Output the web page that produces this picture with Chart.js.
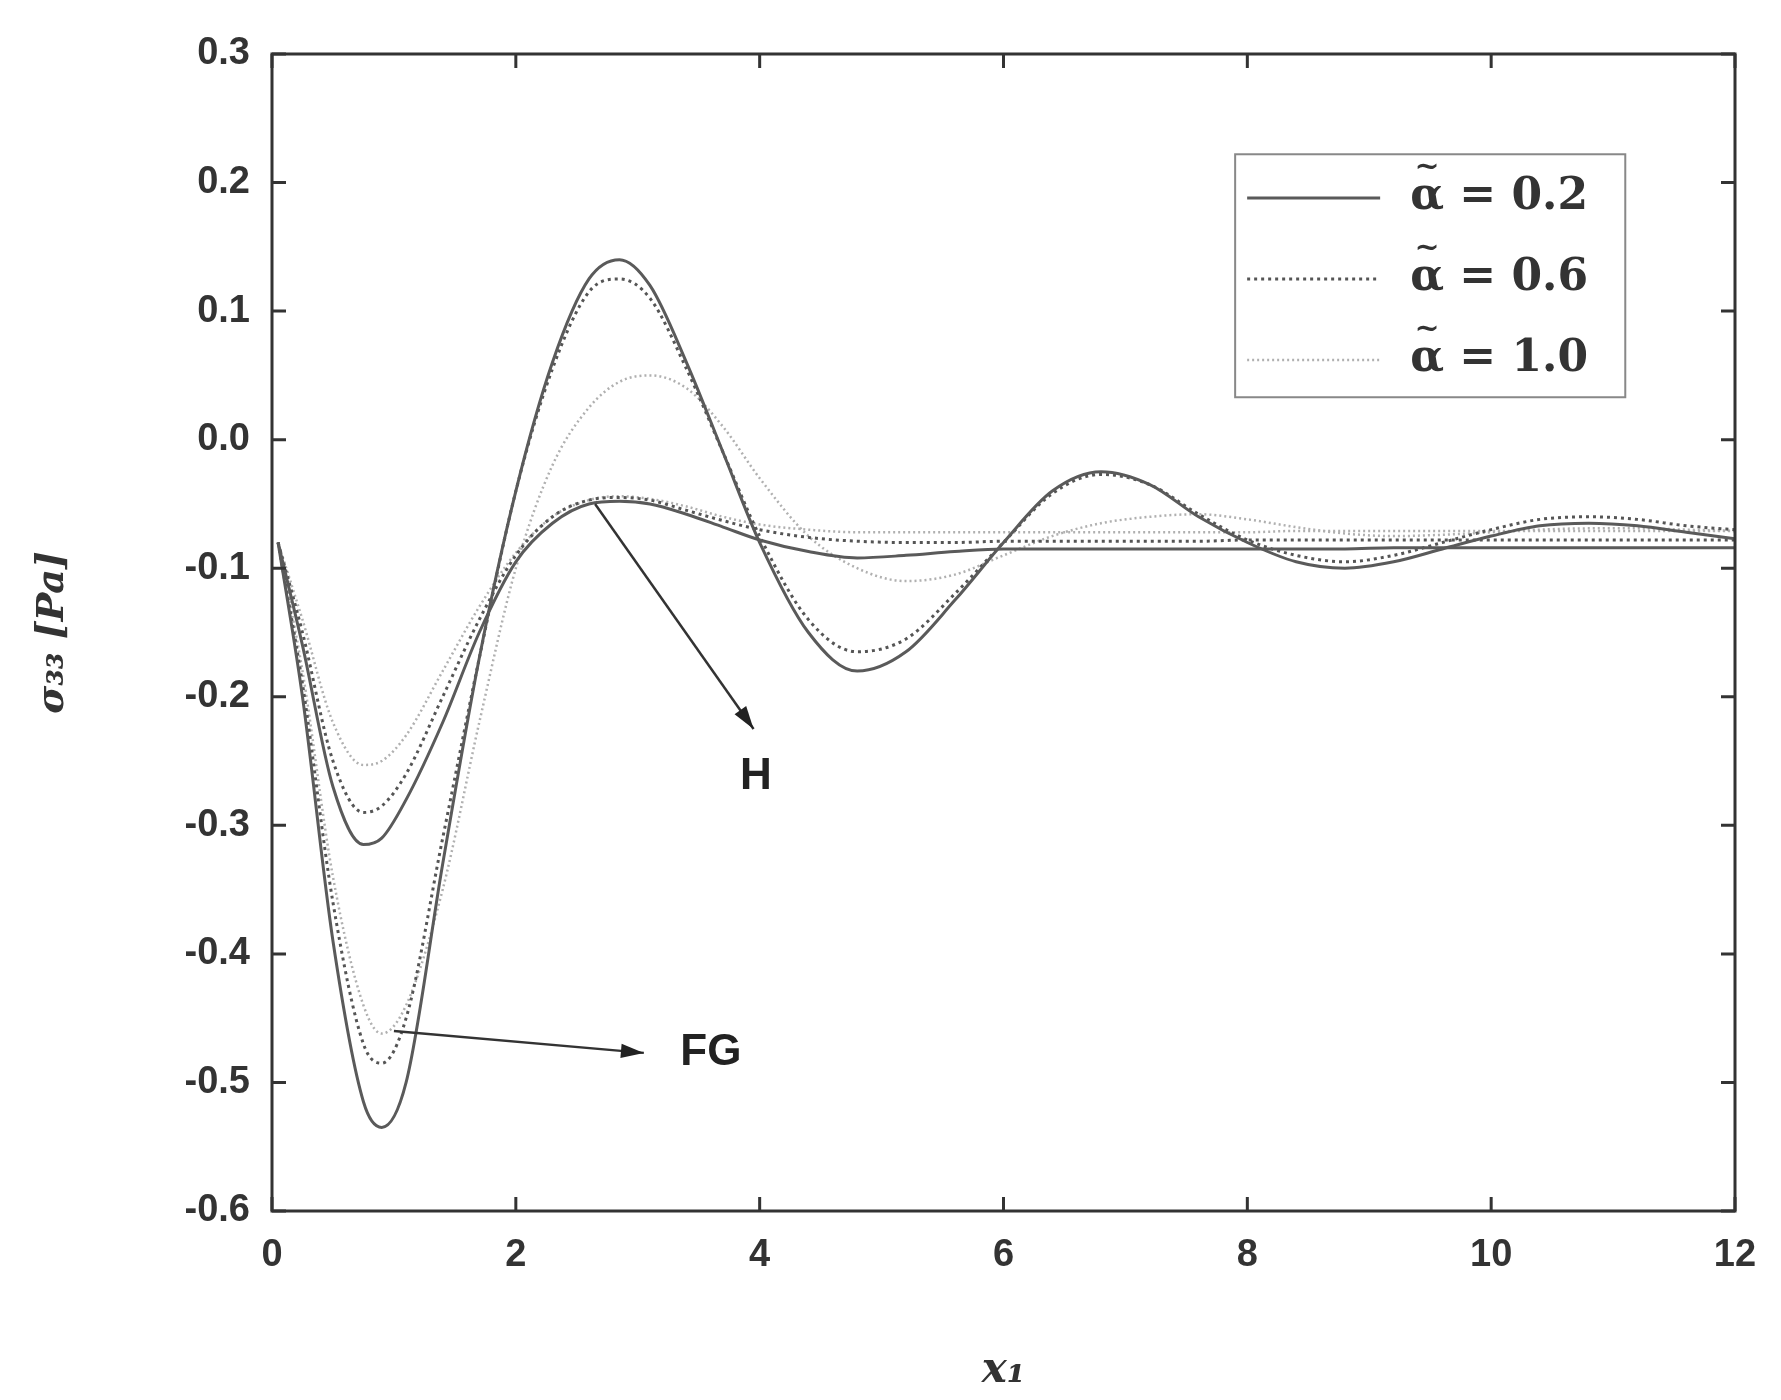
<!DOCTYPE html>
<html><head><meta charset="utf-8">
<script src="https://cdn.jsdelivr.net/npm/chart.js@4.4.1/dist/chart.umd.min.js"></script>
<style>html,body{margin:0;background:#fff}#w{width:1781px;height:1400px}</style>
</head><body><div id="w"><canvas id="c"></canvas></div>
<script>
const xs=[0.05,0.25,0.5,0.75,0.9,1.1,1.4,1.7,2.0,2.3,2.6,2.85,3.1,3.4,3.7,4.0,4.4,4.8,5.2,5.6,6.0,6.4,6.8,7.2,7.6,8.0,8.4,8.8,9.2,9.6,10.0,10.4,10.8,11.2,11.6,12];
const fg02=[-0.08,-0.2,-0.39,-0.515,-0.535,-0.5,-0.33,-0.17,-0.04,0.06,0.125,0.14,0.12,0.06,-0.01,-0.08,-0.15,-0.18,-0.165,-0.125,-0.08,-0.04,-0.025,-0.035,-0.06,-0.08,-0.095,-0.1,-0.095,-0.085,-0.075,-0.067,-0.065,-0.067,-0.072,-0.077];
const fg06=[-0.08,-0.19,-0.36,-0.47,-0.485,-0.45,-0.31,-0.17,-0.04,0.055,0.115,0.125,0.11,0.055,-0.01,-0.075,-0.14,-0.165,-0.155,-0.12,-0.08,-0.042,-0.027,-0.035,-0.058,-0.078,-0.09,-0.095,-0.09,-0.08,-0.07,-0.062,-0.06,-0.062,-0.067,-0.07];
const fg10=[-0.08,-0.18,-0.34,-0.44,-0.462,-0.44,-0.35,-0.22,-0.1,-0.02,0.025,0.045,0.05,0.04,0.01,-0.03,-0.075,-0.1,-0.11,-0.105,-0.09,-0.075,-0.065,-0.06,-0.058,-0.062,-0.068,-0.073,-0.075,-0.074,-0.072,-0.07,-0.069,-0.069,-0.07,-0.071];
const h02=[-0.08,-0.16,-0.27,-0.315,-0.31,-0.28,-0.22,-0.15,-0.095,-0.065,-0.05,-0.048,-0.05,-0.058,-0.068,-0.078,-0.087,-0.092,-0.09,-0.087,-0.085,-0.085,-0.085,-0.085,-0.085,-0.085,-0.085,-0.085,-0.084,-0.084,-0.084,-0.084,-0.084,-0.084,-0.084,-0.084];
const h06=[-0.08,-0.15,-0.25,-0.29,-0.285,-0.26,-0.2,-0.14,-0.09,-0.06,-0.047,-0.045,-0.047,-0.055,-0.063,-0.07,-0.076,-0.079,-0.08,-0.08,-0.079,-0.079,-0.079,-0.079,-0.079,-0.078,-0.078,-0.078,-0.078,-0.078,-0.078,-0.078,-0.078,-0.078,-0.078,-0.078];
const h10=[-0.08,-0.14,-0.22,-0.253,-0.25,-0.23,-0.18,-0.13,-0.088,-0.06,-0.047,-0.044,-0.046,-0.052,-0.06,-0.066,-0.07,-0.072,-0.072,-0.072,-0.072,-0.072,-0.072,-0.072,-0.072,-0.072,-0.071,-0.071,-0.071,-0.071,-0.071,-0.071,-0.071,-0.071,-0.071,-0.071];
const legendValues=['0.2','0.6','1.0'];
const xTicks=[0,2,4,6,8,10,12];
const yTicks=[0.3,0.2,0.1,0.0,-0.1,-0.2,-0.3,-0.4,-0.5,-0.6];

const styles=[{c:'#5a5a5a',w:3,d:[]},{c:'#555',w:3,d:[3,4]},{c:'#b0b0b0',w:2.5,d:[2,3]}];
const pts=a=>xs.map((x,i)=>({x,y:a[i]}));
const ds=[];
[[fg02,h02],[fg06,h06],[fg10,h10]].forEach((pair,k)=>pair.forEach(a=>ds.push({data:pts(a),borderColor:styles[k].c,borderWidth:styles[k].w,borderDash:styles[k].d,pointRadius:0,cubicInterpolationMode:'monotone',fill:false})));

const deco={id:'deco',afterDraw(ch){
 const c=ch.ctx,x=ch.scales.x,y=ch.scales.y,a=ch.chartArea;
 c.save();
 c.strokeStyle='#333';c.lineWidth=3;c.strokeRect(a.left,a.top,a.right-a.left,a.bottom-a.top);
 xTicks.forEach(v=>{const p=x.getPixelForValue(v);c.beginPath();c.moveTo(p,a.bottom);c.lineTo(p,a.bottom-14);c.moveTo(p,a.top);c.lineTo(p,a.top+14);c.stroke();});
 yTicks.forEach(v=>{const p=y.getPixelForValue(v);c.beginPath();c.moveTo(a.left,p);c.lineTo(a.left+14,p);c.moveTo(a.right,p);c.lineTo(a.right-14,p);c.stroke();});
 function arrow(x0,y0,x1,y1){const X0=x.getPixelForValue(x0),Y0=y.getPixelForValue(y0),X1=x.getPixelForValue(x1),Y1=y.getPixelForValue(y1);
  c.strokeStyle='#333';c.fillStyle='#222';c.lineWidth=2.5;c.beginPath();c.moveTo(X0,Y0);c.lineTo(X1,Y1);c.stroke();
  const ang=Math.atan2(Y1-Y0,X1-X0);c.beginPath();c.moveTo(X1,Y1);c.lineTo(X1-24*Math.cos(ang-0.3),Y1-24*Math.sin(ang-0.3));c.lineTo(X1-24*Math.cos(ang+0.3),Y1-24*Math.sin(ang+0.3));c.closePath();c.fill();}
 arrow(2.65,-0.05,3.95,-0.225);arrow(1.0,-0.46,3.05,-0.477);
 c.fillStyle='#222';c.font='bold 44px "Liberation Sans"';c.textAlign='center';c.textBaseline='middle';
 c.fillText('H',x.getPixelForValue(3.97),y.getPixelForValue(-0.262));
 c.fillText('FG',x.getPixelForValue(3.6),y.getPixelForValue(-0.477));
 const L=x.getPixelForValue(7.9),R=x.getPixelForValue(11.1),T=y.getPixelForValue(0.222),B=y.getPixelForValue(0.033);
 c.strokeStyle='#888';c.lineWidth=2;c.strokeRect(L,T,R-L,B-T);
 c.textAlign='left';c.font='bold 44px "DejaVu Serif"';
 legendValues.forEach((t,i)=>{const yy=y.getPixelForValue(0.188-i*0.063);const s=styles[i];
  c.strokeStyle=s.c;c.lineWidth=s.w;c.setLineDash(s.d);c.beginPath();c.moveTo(L+12,yy);c.lineTo(L+145,yy);c.stroke();c.setLineDash([]);
  c.fillStyle='#333';const tx=L+175;c.fillText('α',tx,yy);
  const aw=c.measureText('α').width;c.font='bold 30px "DejaVu Serif"';c.textAlign='center';c.fillText('~',tx+aw/2,yy-30);
  c.textAlign='left';c.font='bold 44px "DejaVu Serif"';c.fillText(' = '+t,tx+aw,yy);});
 c.restore();}};

new Chart(document.getElementById('c'),{type:'line',data:{datasets:ds},plugins:[deco],
options:{responsive:true,maintainAspectRatio:false,animation:false,
 layout:{padding:{top:54,right:46,left:30,bottom:0}},
 plugins:{legend:{display:false},tooltip:{enabled:false}},
 scales:{
  x:{type:'linear',min:0,max:12,afterBuildTicks:s=>{s.ticks=xTicks.map(v=>({value:v}))},
   grid:{display:false},border:{display:false},
   ticks:{color:'#333',font:{family:'Liberation Sans',size:38,weight:'bold'},padding:14,maxRotation:0},
   title:{display:true,text:'x₁',color:'#333',font:{family:'DejaVu Serif',size:42,weight:'bold',style:'italic'},padding:{top:4}},
   afterFit:s=>{s.height=189}},
  y:{type:'linear',min:-0.6,max:0.3,afterBuildTicks:s=>{s.ticks=yTicks.map(v=>({value:v}))},
   grid:{display:false},border:{display:false},
   ticks:{color:'#333',font:{family:'Liberation Sans',size:38,weight:'bold'},padding:14,callback:v=>v.toFixed(1)},
   title:{display:true,text:'σ₃₃ [Pa]',color:'#333',font:{family:'DejaVu Serif',size:38,weight:'bold',style:'italic'},padding:0},
   afterFit:s=>{s.width=242}}
 }}});
</script></body></html>
